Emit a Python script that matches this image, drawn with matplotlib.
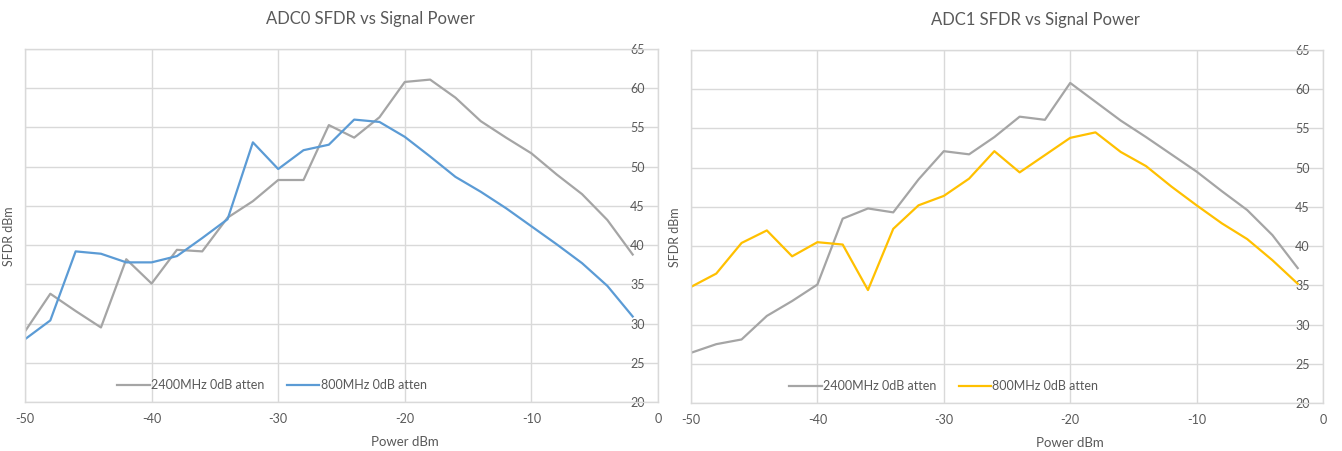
import matplotlib
matplotlib.use('Agg')
import matplotlib.pyplot as plt

plt.rcParams['font.family'] = ['Lato', 'DejaVu Sans']
plt.rcParams['axes.unicode_minus'] = False

# Potencia de entrada (dBm)
power = [-50, -48, -46, -44, -42, -40, -38, -36, -34, -32, -30, -28, -26,
         -24, -22, -20, -18, -16, -14, -12, -10, -8, -6, -4, -2]

# SFDR
adc0_2400 = [29.0, 33.8, 31.6, 29.5, 38.2, 35.1, 39.4, 39.2, 43.5, 45.6, 48.3, 48.3, 55.3,
             53.7, 56.3, 60.8, 61.1, 58.8, 55.8, 53.7, 51.7, 49.0, 46.5, 43.2, 38.8]
adc0_800 = [28.0, 30.4, 39.2, 38.9, 37.8, 37.8, 38.6, 40.9, 43.3, 53.1, 49.7, 52.1, 52.8,
            56.0, 55.7, 53.8, 51.3, 48.7, 46.8, 44.7, 42.4, 40.1, 37.7, 34.8, 30.9]
adc1_2400 = [26.4, 27.5, 28.1, 31.1, 33.0, 35.1, 43.5, 44.8, 44.3, 48.5, 52.1, 51.7, 53.9,
             56.5, 56.1, 60.8, 58.4, 56.0, 53.9, 51.7, 49.5, 47.0, 44.6, 41.4, 37.2]
adc1_800 = [34.8, 36.5, 40.4, 42.0, 38.7, 40.5, 40.2, 34.4, 42.2, 45.2, 46.4, 48.6, 52.1,
            49.4, 51.6, 53.8, 54.5, 52.0, 50.2, 47.6, 45.2, 42.9, 40.9, 38.2, 35.2]

titles = ['ADC0 SFDR vs Signal Power', 'ADC1 SFDR vs Signal Power']
labels = ['2400MHz 0dB atten', '800MHz 0dB atten']
x_ticks = [-50, -40, -30, -20, -10, 0]
y_ticks = [20, 25, 30, 35, 40, 45, 50, 55, 60, 65]

GRIS = '#A5A5A5'
AZUL = '#5B9BD5'
AMARILLO = '#FFC000'
GRID = '#D9D9D9'
TEXTO = '#595959'

W, H = 1342, 451
fig = plt.figure(figsize=(W / 100, H / 100), dpi=100)

# posiciones de cada panel en pixeles (izq, abajo, ancho, alto)
paneles = [(25, 402, 633, 353), (691, 403, 632, 353)]
series = [(adc0_2400, adc0_800, AZUL, 0.39), (adc1_2400, adc1_800, AMARILLO, 0.40)]

for (px, py, pw, ph), titulo, (s1, s2, color2, leg_x) in zip(paneles, titles, series):
    ax = fig.add_axes([px / W, 1 - py / H, pw / W, ph / H])
    ax.plot(power, s1, color=GRIS, lw=1.6, label=labels[0])
    ax.plot(power, s2, color=color2, lw=1.6, label=labels[1])

    ax.set_xlim(-50, 0)
    ax.set_ylim(20, 65)
    ax.set_xticks(x_ticks)
    ax.set_yticks(y_ticks)
    ax.grid(True, color=GRID, lw=1)
    ax.set_axisbelow(True)
    for lado in ax.spines.values():
        lado.set_color(GRID)
        lado.set_linewidth(1)

    # etiquetas del eje Y dentro del area, pegadas al borde derecho
    ax.yaxis.tick_right()
    ax.tick_params(axis='y', length=0, pad=-9.5, labelsize=9, labelcolor=TEXTO)
    for lbl in ax.get_yticklabels():
        lbl.set_horizontalalignment('right')
    ax.tick_params(axis='x', length=0, pad=8, labelsize=9, labelcolor=TEXTO)

    ax.yaxis.set_label_position('left')
    ax.set_ylabel('SFDR dBm', fontsize=9, color=TEXTO)
    ax.yaxis.set_label_coords(-0.016, 0.47)
    ax.set_xlabel('Power dBm', fontsize=9.5, color=TEXTO)
    ax.xaxis.set_label_coords(0.60, -0.095)

    ax.text(0.545, 1.085, titulo, transform=ax.transAxes, ha='center', va='center',
            fontsize=12, color=TEXTO)

    ax.legend(loc='center', bbox_to_anchor=(leg_x, 0.048), ncol=2, frameon=False,
              fontsize=9, labelcolor=TEXTO, handlelength=2.6, handletextpad=0.1,
              columnspacing=1.8)

fig.savefig('out.png', dpi=100)
